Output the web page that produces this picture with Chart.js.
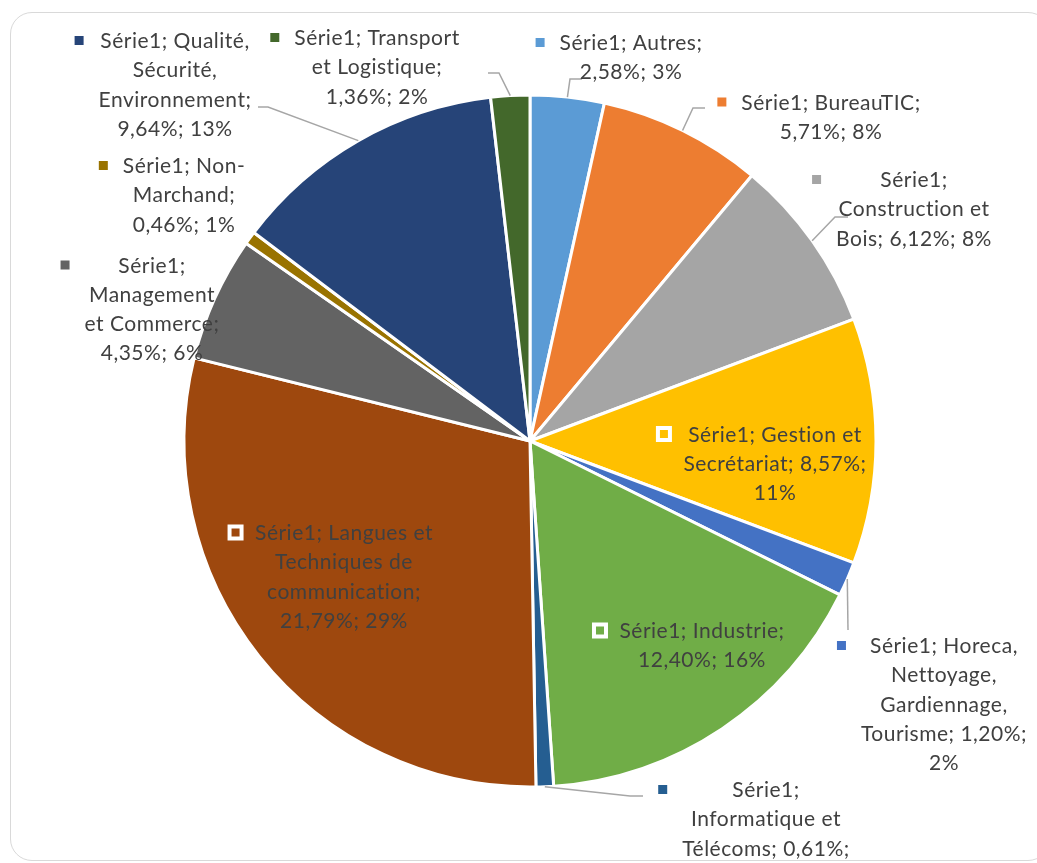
<!DOCTYPE html>
<html lang="fr">
<head>
    <meta charset="UTF-8">
    <title>Série1 - répartition par secteur</title>
    <script src="https://cdn.jsdelivr.net/npm/chart.js"></script>
    <style>
        body {
            margin: 0;
            background: #fff;
            overflow: hidden;
        }

        .frame {
            position: absolute;
            left: 10px;
            top: 12px;
            width: 1040px;
            height: 849px;
            border: 1.5px solid #d9d9d9;
            border-radius: 22px;
            box-sizing: border-box;
        }

        .chart-box {
            position: absolute;
            left: 0;
            top: 0;
            width: 1037px;
            height: 863px;
        }
    </style>
</head>
<body>
    <div class="frame"></div>
    <div class="chart-box"><canvas id="pieChart"></canvas></div>

    <script>
        const seriesName = 'Série1';
        const categories = [
            'Autres',
            'BureauTIC',
            'Construction et Bois',
            'Gestion et Secrétariat',
            'Horeca, Nettoyage, Gardiennage, Tourisme',
            'Industrie',
            'Informatique et Télécoms',
            'Langues et Techniques de communication',
            'Management et Commerce',
            'Non-Marchand',
            'Qualité, Sécurité, Environnement',
            'Transport et Logistique'
        ];
        const values = [2.58, 5.71, 6.12, 8.57, 1.20, 12.40, 0.61, 21.79, 4.35, 0.46, 9.64, 1.36];
        // percentages as printed on the chart
        const shownPct = [3, 8, 8, 11, 2, 16, 1, 29, 6, 1, 13, 2];

        const colors = ['#5B9BD5', '#ED7D31', '#A5A5A5', '#FFC000', '#4472C4', '#70AD47',
                        '#255E91', '#9E480E', '#636363', '#997300', '#264478', '#43682B'];

        // where each callout sits: centre x, first line y, words per line, leader elbow
        const labelLayout = [
            { cx: 631, cy: 42.5, lines: [2, 2], leader: [[582, 79], [570, 79]] },
            { cx: 831, cy: 102, lines: [2, 2], leader: [[705, 108], [693, 108]] },
            { cx: 914, cy: 179.5, lines: [1, 2, 3], leader: [[848, 217], [835, 217]] },
            { cx: 775, cy: 434, lines: [3, 2, 1], inside: true },
            { cx: 944, cy: 645.5, lines: [2, 1, 1, 2, 1], leader: [[848, 630]] },
            { cx: 702, cy: 630.5, lines: [2, 2], inside: true },
            { cx: 766, cy: 789.5, lines: [1, 2, 2, 1], leader: [[643, 796], [630, 796]] },
            { cx: 344, cy: 532.5, lines: [3, 2, 1, 2], inside: true },
            { cx: 152, cy: 265, lines: [1, 1, 2, 2] },
            { cx: 184, cy: 165.5, lines: [2, 1, 2] },
            { cx: 175, cy: 40.5, lines: [2, 1, 1, 2], leader: [[258, 107], [268, 107]] },
            { cx: 377, cy: 37.5, lines: [2, 2, 2], leader: [[488, 73], [499, 73]] }
        ];

        const FONT = '21px Lato';
        const LINE_H = 29.3;

        function fmtValue(v) {
            return v.toFixed(2).replace('.', ',') + '%';
        }

        function labelLines(i) {
            const text = seriesName + '; ' + categories[i] + '; ' + fmtValue(values[i]) + '; ' + shownPct[i] + '%';
            const words = text.match(/[^\s-]+-?/g);
            const out = [];
            let k = 0;
            labelLayout[i].lines.forEach(n => {
                let line = '';
                for (let j = 0; j < n && k < words.length; j++, k++) {
                    if (line && !line.endsWith('-')) line += ' ';
                    line += words[k];
                }
                out.push(line);
            });
            return out;
        }

        const calloutPlugin = {
            id: 'callouts',
            afterDatasetsDraw(chart) {
                const ctx = chart.ctx;
                const arcs = chart.getDatasetMeta(0).data;
                ctx.save();
                ctx.font = FONT;
                ctx.letterSpacing = '0.5px'; // also stops the tt / ti ligatures

                // leader lines first
                arcs.forEach((arc, i) => {
                    const lay = labelLayout[i];
                    if (!lay.leader) return;
                    const p = arc.getProps(['x', 'y', 'startAngle', 'endAngle', 'outerRadius'], true);
                    const mid = (p.startAngle + p.endAngle) / 2;
                    ctx.beginPath();
                    ctx.strokeStyle = '#a6a6a6';
                    ctx.lineWidth = 1.5;
                    ctx.moveTo(lay.leader[0][0], lay.leader[0][1]);
                    lay.leader.slice(1).forEach(pt => ctx.lineTo(pt[0], pt[1]));
                    ctx.lineTo(p.x + Math.cos(mid) * p.outerRadius, p.y + Math.sin(mid) * p.outerRadius);
                    ctx.stroke();
                });

                arcs.forEach((arc, i) => {
                    const lay = labelLayout[i];
                    const lines = labelLines(i);
                    const widest = Math.max(...lines.map(l => ctx.measureText(l).width));

                    ctx.fillStyle = '#404040';
                    ctx.textAlign = 'center';
                    ctx.textBaseline = 'alphabetic';
                    lines.forEach((l, k) => ctx.fillText(l, lay.cx, lay.cy + k * LINE_H + 7.5));

                    const mx = lay.cx - widest / 2 - 19.5;
                    const my = lay.cy;
                    if (lay.inside) {
                        ctx.fillStyle = '#fff';
                        ctx.fillRect(mx - 8, my - 8, 16, 16);
                        ctx.fillStyle = colors[i];
                        ctx.fillRect(mx - 4, my - 4, 8, 8);
                    } else {
                        ctx.fillStyle = colors[i];
                        ctx.fillRect(mx - 4.5, my - 4.5, 9, 9);
                    }
                });
                ctx.restore();
            }
        };

        new Chart(document.getElementById('pieChart'), {
            type: 'pie',
            data: {
                labels: categories,
                datasets: [{
                    label: seriesName,
                    data: values,
                    backgroundColor: colors,
                    borderColor: '#ffffff',
                    borderWidth: 3,
                    hoverOffset: 0
                }]
            },
            options: {
                responsive: true,
                maintainAspectRatio: false,
                animation: false,
                radius: 346,
                layout: {
                    padding: { left: 185, right: 162, top: 96, bottom: 77 }
                },
                plugins: {
                    legend: { display: false },
                    tooltip: { enabled: false }
                }
            },
            plugins: [calloutPlugin]
        });
    </script>
</body>
</html>
